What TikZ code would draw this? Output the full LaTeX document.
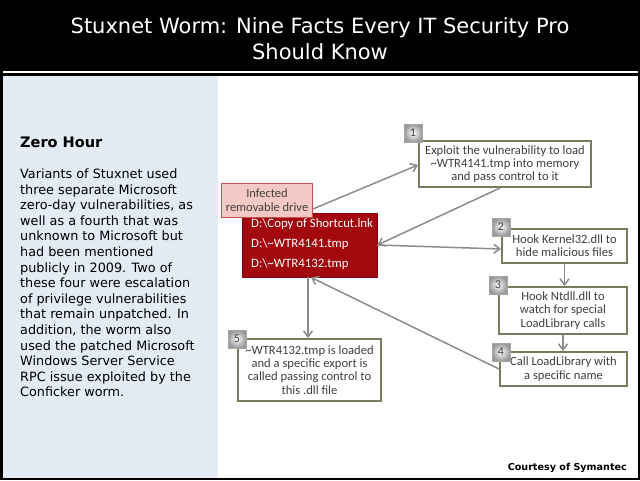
\documentclass[tikz,border=0pt]{standalone}
\usepackage{fontspec}
\setmainfont{DejaVu Sans}
\newfontfamily\calib{Carlito}
\usetikzlibrary{arrows.meta}
\definecolor{panelblue}{RGB}{227,235,245}
\definecolor{drred}{RGB}{162,8,14}
\definecolor{pinkfill}{RGB}{244,200,196}
\definecolor{pinkedge}{RGB}{200,80,80}
\definecolor{olive}{RGB}{122,122,92}
\definecolor{conn}{RGB}{140,140,140}
\definecolor{txt}{RGB}{64,64,64}
\tikzset{
  stepbox/.style={draw=olive, line width=2pt, fill=white, align=center,
    font=\calib\fontsize{12.6}{13.3}\selectfont, text=txt, inner sep=1pt},
  tagbox/.style={draw=black!35, line width=0.6pt, inner color=white, outer color=black!40,
    minimum width=18pt, minimum height=18pt, inner sep=0pt,
    font=\calib\fontsize{12}{12}\selectfont, text=txt},
  conn/.style={draw=conn, line width=1.5pt, -{Straight Barb[length=6pt,width=9pt]}},
}
\begin{document}
\begin{tikzpicture}[x=1pt,y=-1pt]
\useasboundingbox (0,0) rectangle (640,480);
\fill[white] (0,0) rectangle (640,480);
\fill[black] (0,0) rectangle (640,71);
\fill[black] (0,73) rectangle (640,76);
\fill[panelblue] (2,76) rectangle (218,478);
\draw[black, line width=2.5pt] (1.25,1.25) rectangle (638.75,478.75);

\node[text=white, align=center, font=\fontsize{21}{26}\selectfont] (title) at (320,39)
  {Stuxnet Worm: Nine Facts Every IT Security Pro\\Should Know};

\node[anchor=west, font=\bfseries\fontsize{14.5}{16}\selectfont, inner sep=0pt] (zh) at (20,142) {Zero Hour};
\node[anchor=north west, align=left, inner sep=0pt, font=\fontsize{12.8}{15.6}\selectfont] (body) at (20,168.5)
  {Variants of Stuxnet used\\three separate Microsoft\\zero-day vulnerabilities, as\\well as a fourth that was\\unknown to Microsoft but\\had been mentioned\\publicly in 2009. Two of\\these four were escalation\\of privilege vulnerabilities\\that remain unpatched. In\\addition, the worm also\\used the patched Microsoft\\Windows Server Service\\RPC issue exploited by the\\Conficker worm.};

\node[anchor=east, font=\bfseries\fontsize{9.6}{11}\selectfont, inner sep=0pt] (court) at (627,468) {Courtesy of Symantec};

% dark red drive box
\node[fill=drred, draw=drred!80!black, line width=0.8pt, minimum width=135pt, minimum height=64pt, inner sep=0pt] (red) at (309.5,245) {};
\node[anchor=west, text=white, font=\calib\fontsize{12.8}{13}\selectfont, inner sep=0pt] (f1) at (251,224) {D:\textbackslash Copy of Shortcut.lnk};
\node[anchor=west, text=white, font=\calib\fontsize{12.8}{13}\selectfont, inner sep=0pt] (f2) at (251,244) {D:\textbackslash\textasciitilde WTR4141.tmp};
\node[anchor=west, text=white, font=\calib\fontsize{12.8}{13}\selectfont, inner sep=0pt] (f3) at (251,264) {D:\textbackslash\textasciitilde WTR4132.tmp};
\node[fill=pinkfill, draw=pinkedge, line width=0.8pt, minimum width=91pt, minimum height=34pt, inner sep=0pt, align=center,
  font=\calib\fontsize{12.5}{13.5}\selectfont, text=txt] (pink) at (267,200) {Infected\\removable drive};

% steps
\node[stepbox, minimum width=172pt, minimum height=46pt] (b1) at (505,164)
  {Exploit the vulnerability to load\\\textasciitilde WTR4141.tmp into memory\\and pass control to it};
\node[stepbox, minimum width=125pt, minimum height=34pt] (b2) at (564.5,246)
  {Hook Kernel32.dll to\\hide malicious files};
\node[stepbox, minimum width=128pt, minimum height=47pt] (b3) at (563,310.5)
  {Hook Ntdll.dll to\\watch for special\\LoadLibrary calls};
\node[stepbox, minimum width=127pt, minimum height=34pt] (b4) at (563.5,369)
  {Call LoadLibrary with\\a specific name};
\node[stepbox, minimum width=143pt, minimum height=62pt] (b5) at (309.5,370)
  {\textasciitilde WTR4132.tmp is loaded\\and a specific export is\\called passing control to\\this .dll file};

\node[tagbox] (t1) at (413,133) {1};
\node[tagbox] (t2) at (501,227) {2};
\node[tagbox] (t3) at (498,285) {3};
\node[tagbox] (t4) at (501,352) {4};
\node[tagbox] (t5) at (237,339) {5};

% connectors
\draw[conn] ([yshift=-9pt]pink.east) -- ([yshift=-1pt]b1.west);
\draw[conn] ([xshift=-5pt]b1.south) -- (red.east);
\draw[conn] (red.east) -- ([yshift=-3pt]b2.west);
\draw[conn] (b2.south) -- (b2.south |- b3.north);
\draw[conn] (b3.south) -- (b3.south |- b4.north);
\draw[conn] (b4.west) -- ([xshift=1.5pt]red.south);
\draw[conn] ([xshift=-1.5pt]red.south) -- ([xshift=-1.5pt]red.south |- b5.north);
\end{tikzpicture}
\end{document}
